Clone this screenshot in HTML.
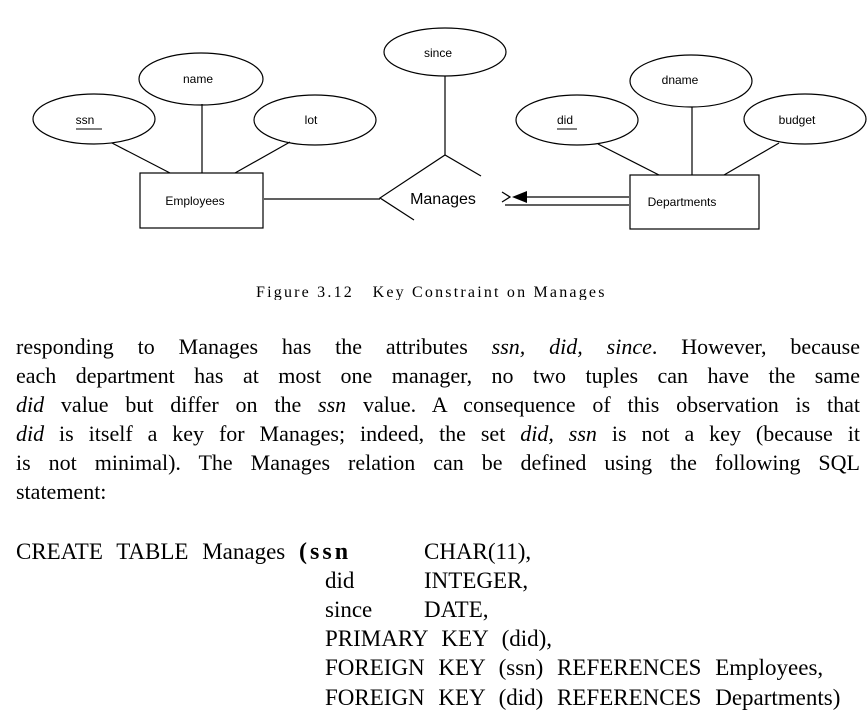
<!DOCTYPE html>
<html><head><meta charset="utf-8"><style>
body{margin:0;width:868px;height:724px;background:#fff;position:relative;overflow:hidden;font-family:"Liberation Serif",serif;color:#000}
.ln{position:absolute;left:16px;width:844px;font-size:22px;line-height:29px;text-align:justify;text-align-last:justify;white-space:nowrap}
.c{position:absolute;font-size:23px;line-height:29px;white-space:nowrap;word-spacing:8px}
i{font-style:italic}
</style></head><body>
<svg width="868" height="300" style="position:absolute;left:0;top:0" font-family="Liberation Sans, sans-serif">
<g fill="none" stroke="#000" stroke-width="1.2">
<ellipse cx="94" cy="119" rx="61" ry="25"/>
<ellipse cx="201" cy="79" rx="62" ry="26"/>
<ellipse cx="315" cy="120" rx="61" ry="25"/>
<ellipse cx="445" cy="52" rx="61" ry="24"/>
<ellipse cx="691" cy="81" rx="61" ry="26"/>
<ellipse cx="577" cy="120" rx="61" ry="25"/>
<ellipse cx="805" cy="119" rx="61" ry="25"/>
<rect x="140" y="173" width="123" height="55"/>
<rect x="630" y="175" width="129" height="54"/>
<line x1="112" y1="143" x2="170" y2="173"/>
<line x1="202" y1="104" x2="202" y2="173"/>
<line x1="290" y1="142" x2="235" y2="173"/>
<line x1="598" y1="144" x2="659" y2="175"/>
<line x1="692" y1="107" x2="692" y2="175"/>
<line x1="779" y1="143" x2="724" y2="175"/>
<line x1="445" y1="76" x2="445" y2="155"/>
<polyline points="481,176 445,155 380,198 414,220"/>
<line x1="264" y1="199" x2="380" y2="199"/>
<line x1="525" y1="197" x2="629" y2="197"/>
<line x1="505" y1="205" x2="629" y2="205"/>
<polyline points="502,192 510,197 502,202"/>
</g>
<polygon points="512,197 527,191 527,203" fill="#000"/>
<g font-size="12" text-anchor="middle">
<text x="85" y="124">ssn</text><line x1="76" y1="129" x2="102" y2="129" stroke="#000"/>
<text x="198" y="83">name</text>
<text x="311" y="124">lot</text>
<text x="438" y="57">since</text>
<text x="680" y="84">dname</text>
<text x="565" y="124">did</text><line x1="557" y1="129" x2="577" y2="129" stroke="#000"/>
<text x="797" y="124">budget</text>
<text x="195" y="205">Employees</text>
<text x="682" y="206">Departments</text>
<text x="443" y="204" font-size="16">Manages</text>
</g>
<text x="256" y="297" font-size="16" font-family="Liberation Serif, serif" letter-spacing="2.2">Figure 3.12&#160;&#160; Key Constraint on Manages</text>
</svg>
<div class="ln" style="top:332px">responding to Manages has the attributes <i>ssn, did, since</i>. However, because</div>
<div class="ln" style="top:361px">each department has at most one manager, no two tuples can have the same</div>
<div class="ln" style="top:390px"><i>did</i> value but differ on the <i>ssn</i> value. A consequence of this observation is that</div>
<div class="ln" style="top:419px"><i>did</i> is itself a key for Manages; indeed, the set <i>did, ssn</i> is not a key (because it</div>
<div class="ln" style="top:448px">is not minimal). The Manages relation can be defined using the following SQL</div>
<div class="ln" style="top:477px;text-align-last:left;width:auto">statement:</div>
<div class="c" style="left:16px;top:537px">CREATE TABLE Manages <b style="font-size:24px;letter-spacing:3px">(ssn</b></div>
<div class="c" style="left:424px;top:537px">CHAR(11),</div>
<div class="c" style="left:325px;top:566px">did</div><div class="c" style="left:424px;top:566px">INTEGER,</div>
<div class="c" style="left:325px;top:595px">since</div><div class="c" style="left:424px;top:595px">DATE,</div>
<div class="c" style="left:325px;top:624px">PRIMARY KEY (did),</div>
<div class="c" style="left:325px;top:653px">FOREIGN KEY (ssn) REFERENCES Employees,</div>
<div class="c" style="left:325px;top:683px">FOREIGN KEY (did) REFERENCES Departments)</div>
</body></html>
